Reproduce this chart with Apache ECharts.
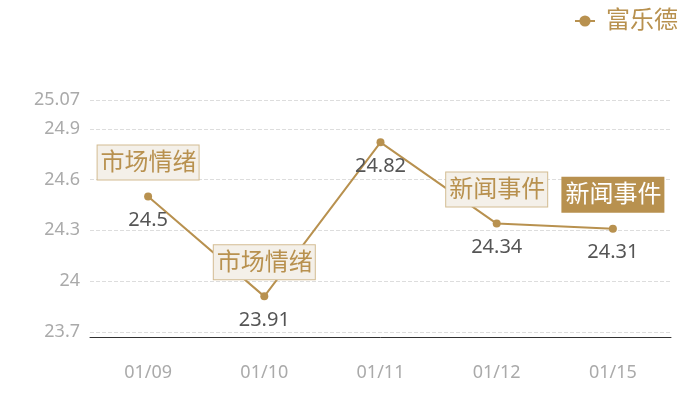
<!DOCTYPE html>
<html>
<head>
<meta charset="utf-8">
<script src="https://cdn.jsdelivr.net/npm/echarts@6/dist/echarts.min.js"></script>
<style>
html,body{margin:0;padding:0;background:#fff;}
#chart{width:700px;height:400px;}
</style>
</head>
<body>
<div id="chart"></div>
<script>
var categories = ['01/09', '01/10', '01/11', '01/12', '01/15'];
var seriesName = '富乐德';
var values = [24.5, 23.91, 24.82, 24.34, 24.31];
var yMin = 23.67;
var yMax = 25.07;
var eventTexts = ['市场情绪', '市场情绪', null, '新闻事件', '新闻事件'];
var eventHighlighted = [false, false, false, false, true];

var FONT = '"Noto Sans", "Noto Sans CJK SC", sans-serif';
var GOLD = '#b8914f';

var markData = [];
for (var i = 0; i < categories.length; i++) {
  if (!eventTexts[i]) continue;
  var hl = eventHighlighted[i];
  markData.push({
    coord: [categories[i], values[i]],
    value: eventTexts[i],
    label: {
      show: true,
      formatter: eventTexts[i],
      position: 'top',
      distance: 17,
      fontFamily: FONT,
      fontSize: 24,
      lineHeight: 25,
      color: hl ? '#ffffff' : GOLD,
      backgroundColor: hl ? GOLD : '#f4f0e9',
      borderColor: hl ? GOLD : '#d3bc92',
      borderWidth: 1,
      padding: [5, 2, 4, 3]
    }
  });
}

var chart = echarts.init(document.getElementById('chart'));
chart.setOption({
  animation: false,
  textStyle: {fontFamily: FONT},
  legend: {
    right: 17,
    top: 4,
    itemWidth: 20,
    itemHeight: 14,
    itemGap: 5,
    textStyle: {color: GOLD, fontSize: 24, fontFamily: FONT, padding: [0, 0, 0, 6]},
    data: [seriesName]
  },
  grid: {left: 90, right: 29, top: 100, bottom: 63},
  xAxis: {
    type: 'category',
    data: categories,
    boundaryGap: true,
    axisLine: {lineStyle: {color: '#333', width: 1}},
    axisTick: {show: false},
    axisLabel: {color: '#aaaaaa', fontSize: 18, margin: 27, fontFamily: FONT}
  },
  yAxis: {
    type: 'value',
    min: yMin,
    max: yMax,
    splitNumber: 5,
    axisLine: {show: false},
    axisTick: {show: false},
    axisLabel: {color: '#aaaaaa', fontSize: 18, margin: 10, fontFamily: FONT, showMinLabel: false},
    splitLine: {lineStyle: {color: '#dddddd', type: 'dashed', width: 1}}
  },
  series: [{
    name: seriesName,
    type: 'line',
    data: values,
    symbol: 'circle',
    symbolSize: 8,
    itemStyle: {color: GOLD},
    lineStyle: {color: GOLD, width: 2},
    label: {
      show: true,
      position: 'bottom',
      distance: 10,
      color: '#555555',
      fontSize: 20,
      fontFamily: FONT
    },
    markPoint: {
      symbol: 'circle',
      symbolSize: 0,
      data: markData
    }
  }]
});
</script>
</body>
</html>
